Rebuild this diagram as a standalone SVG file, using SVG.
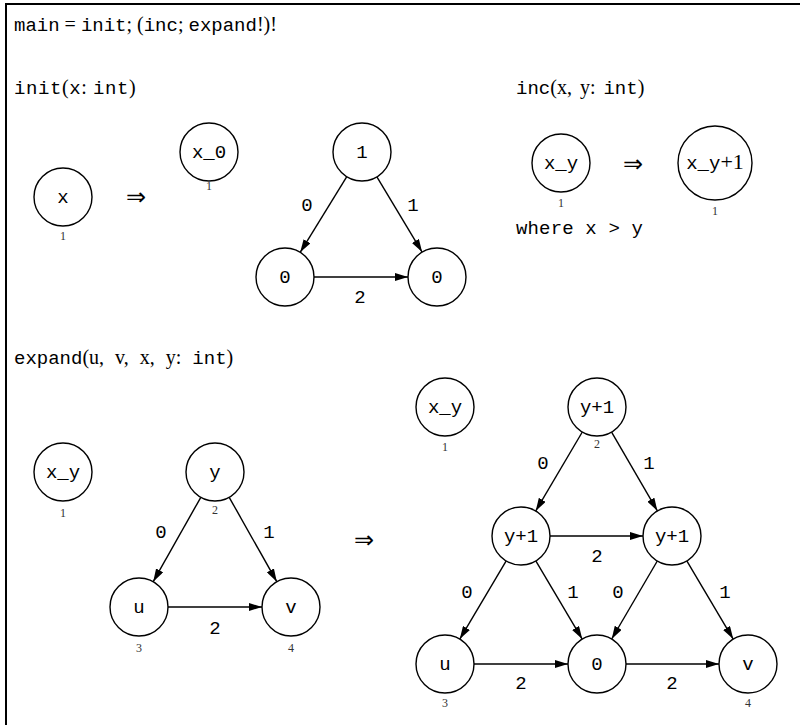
<svg xmlns="http://www.w3.org/2000/svg" width="800" height="725" viewBox="0 0 800 725">
<style>
.n{fill:#fff;stroke:#000;stroke-width:1.4}
.nl{font-family:"Liberation Mono",monospace;font-size:19px;text-anchor:middle;fill:#000}
.ix{font-family:"Liberation Serif",serif;font-size:12px;text-anchor:middle;fill:#333}
.el{font-family:"Liberation Mono",monospace;font-size:19px;text-anchor:middle;fill:#000}
.e{stroke:#000;stroke-width:1.4;fill:none;marker-end:url(#ah)}
.h{font-family:"Liberation Serif",serif;font-size:20px;fill:#000}
.tt{font-family:"Liberation Mono",monospace;font-size:19px}
.ar{font-family:"DejaVu Sans",sans-serif;font-size:24px;text-anchor:middle;fill:#000}
</style>
<defs>
<marker id="ah" markerWidth="13" markerHeight="8" refX="13" refY="4" orient="auto" markerUnits="userSpaceOnUse">
<path d="M0,0 L13,4 L0,8 z" fill="#000"/>
</marker>
</defs>
<rect width="800" height="725" fill="#fff"/>
<path d="M6,725 V4 H800" fill="none" stroke="#000" stroke-width="2"/>

<text class="h" x="14" y="31"><tspan class="tt">main</tspan> = <tspan class="tt">init</tspan>; (<tspan class="tt">inc</tspan>; <tspan class="tt">expand</tspan>!)!</text>
<text class="h" x="14" y="94" letter-spacing="0.6"><tspan class="tt">init</tspan>(<tspan class="tt">x</tspan>: <tspan class="tt">int</tspan>)</text>
<text class="h" x="516" y="94" word-spacing="3"><tspan class="tt">inc</tspan>(x, y: <tspan class="tt">int</tspan>)</text>
<text class="tt" x="516" y="234" textLength="127" lengthAdjust="spacing">where x &gt; y</text>
<text class="h" x="14" y="364" word-spacing="6"><tspan class="tt">expand</tspan>(u, v, x, y: <tspan class="tt">int</tspan>)</text>

<text class="ar" x="136" y="205">⇒</text>
<text class="ar" x="633" y="172">⇒</text>
<text class="ar" x="364" y="548">⇒</text>

<g id="connectors">
<line class="e" x1="346.8" y1="176.7" x2="300.2" y2="252.3"/>
<line class="e" x1="376.9" y1="176.9" x2="422.1" y2="252.1"/>
<line class="e" x1="314" y1="277" x2="408" y2="277"/>
<line class="e" x1="200.8" y1="497.3" x2="153.2" y2="581.7"/>
<line class="e" x1="229.2" y1="497.3" x2="276.8" y2="581.7"/>
<line class="e" x1="168" y1="607" x2="262" y2="607"/>
<line class="e" x1="582.3" y1="432" x2="535.7" y2="511"/>
<line class="e" x1="611.6" y1="432.1" x2="657.4" y2="510.9"/>
<line class="e" x1="550" y1="536" x2="643" y2="536"/>
<line class="e" x1="506.2" y1="560.9" x2="459.8" y2="639.1"/>
<line class="e" x1="535.8" y1="560.9" x2="582.2" y2="639.1"/>
<line class="e" x1="657.3" y1="561" x2="611.7" y2="639"/>
<line class="e" x1="686.8" y1="560.9" x2="733.2" y2="639.1"/>
<line class="e" x1="474" y1="664" x2="568" y2="664"/>
<line class="e" x1="626" y1="664" x2="719" y2="664"/>
<text class="el" x="307" y="211">0</text>
<text class="el" x="413" y="211">1</text>
<text class="el" x="360" y="303">2</text>
<text class="el" x="161" y="538">0</text>
<text class="el" x="269" y="538">1</text>
<text class="el" x="215" y="634">2</text>
<text class="el" x="543" y="469">0</text>
<text class="el" x="649" y="469">1</text>
<text class="el" x="597" y="562">2</text>
<text class="el" x="467" y="598">0</text>
<text class="el" x="573" y="598">1</text>
<text class="el" x="618" y="598">0</text>
<text class="el" x="725" y="598">1</text>
<text class="el" x="521" y="689">2</text>
<text class="el" x="672" y="689">2</text>
</g>

<g id="init-lhs-x"><circle class="n" cx="63" cy="197" r="29"/><text class="nl" x="63" y="203">x</text><text class="ix" x="63" y="240">1</text></g>
<g id="init-rhs-x0"><circle class="n" cx="209" cy="152" r="29"/><text class="nl" x="209" y="158">x_0</text><text class="ix" x="209" y="190">1</text></g>
<g id="init-rhs-1"><circle class="n" cx="362" cy="152" r="29"/><text class="nl" x="362" y="158">1</text></g>
<g id="init-rhs-0a"><circle class="n" cx="285" cy="277" r="29"/><text class="nl" x="285" y="283">0</text></g>
<g id="init-rhs-0b"><circle class="n" cx="437" cy="277" r="29"/><text class="nl" x="437" y="283">0</text></g>

<g id="inc-lhs"><circle class="n" cx="561" cy="163" r="29"/><text class="nl" x="561" y="169">x_y</text><text class="ix" x="561" y="207">1</text></g>
<g id="inc-rhs"><circle class="n" cx="715" cy="163" r="37"/><text class="nl" x="715" y="169">x_y<tspan font-family="Liberation Serif" font-size="22px">+1</tspan></text><text class="ix" x="715" y="215">1</text></g>

<g id="exp-lhs-xy"><circle class="n" cx="63" cy="472" r="29"/><text class="nl" x="63" y="478">x_y</text><text class="ix" x="63" y="517">1</text></g>
<g id="exp-lhs-y"><circle class="n" cx="215" cy="472" r="29"/><text class="nl" x="215" y="478">y</text><text class="ix" x="215" y="514">2</text></g>
<g id="exp-lhs-u"><circle class="n" cx="139" cy="607" r="29"/><text class="nl" x="139" y="613">u</text><text class="ix" x="139" y="652">3</text></g>
<g id="exp-lhs-v"><circle class="n" cx="291" cy="607" r="29"/><text class="nl" x="291" y="613">v</text><text class="ix" x="291" y="652">4</text></g>

<g id="exp-rhs-xy"><circle class="n" cx="445" cy="407" r="29"/><text class="nl" x="445" y="413">x_y</text><text class="ix" x="445" y="451">1</text></g>
<g id="exp-rhs-top"><circle class="n" cx="597" cy="407" r="29"/><text class="nl" x="597" y="413">y+1</text><text class="ix" x="597" y="448">2</text></g>
<g id="exp-rhs-ml"><circle class="n" cx="521" cy="536" r="29"/><text class="nl" x="521" y="542">y+1</text></g>
<g id="exp-rhs-mr"><circle class="n" cx="672" cy="536" r="29"/><text class="nl" x="672" y="542">y+1</text></g>
<g id="exp-rhs-u"><circle class="n" cx="445" cy="664" r="29"/><text class="nl" x="445" y="670">u</text><text class="ix" x="445" y="707">3</text></g>
<g id="exp-rhs-0"><circle class="n" cx="597" cy="664" r="29"/><text class="nl" x="597" y="670">0</text></g>
<g id="exp-rhs-v"><circle class="n" cx="748" cy="664" r="29"/><text class="nl" x="748" y="670">v</text><text class="ix" x="748" y="707">4</text></g>
</svg>
